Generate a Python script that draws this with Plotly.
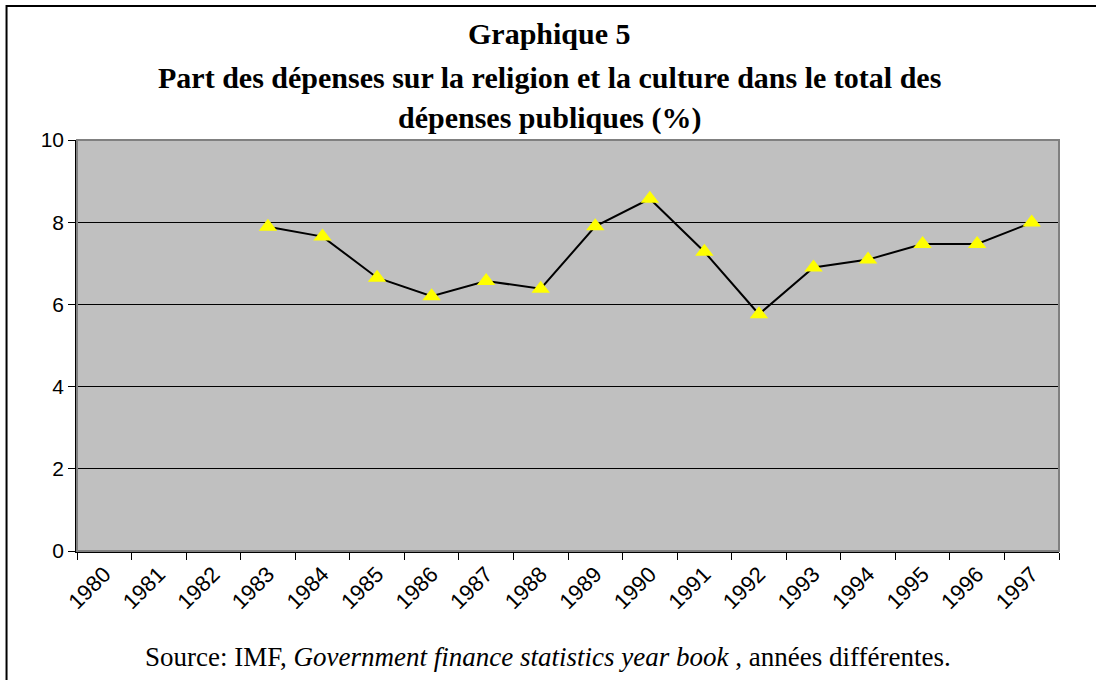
import plotly.graph_objects as go

years = [str(y) for y in range(1980, 1998)]
values = [None, None, None, 7.89, 7.65, 6.65, 6.2, 6.57, 6.38, 7.9, 8.57, 7.28, 5.76, 6.9, 7.09, 7.47, 7.47, 7.99]
y_ticks = [0, 2, 4, 6, 8, 10]

W, H = 1096, 680
L, R, T, B = 76.5, 1059, 140, 551

fig = go.Figure()
fig.add_trace(go.Scatter(
    x=years, y=values, mode="lines+markers",
    line=dict(color="black", width=2),
    marker=dict(symbol="triangle-up", size=16, color="#ffff00", line=dict(width=0)),
    connectgaps=False, showlegend=False, hoverinfo="skip",
))

pw, ph = R - L, B - T
def px(x):
    return (x - L) / pw
def py(y):
    return (B - y) / ph

shapes = [
    dict(type="rect", xref="paper", yref="paper", x0=px(6), x1=px(1110), y0=py(6), y1=py(700),
         line=dict(color="black", width=2), fillcolor="rgba(0,0,0,0)", layer="below"),
    dict(type="rect", xref="paper", yref="paper", x0=0, x1=1, y0=0, y1=1,
         line=dict(color="#808080", width=2), fillcolor="rgba(0,0,0,0)", layer="above"),
]

title_font = dict(family="Liberation Serif, Times New Roman, serif", size=30, color="black")
annotations = []
for txt, yc in [("<b>Graphique 5</b>", 33),
                ("<b>Part des dépenses sur la religion et la culture dans le total des</b>", 77),
                ("<b>dépenses publiques (%)</b>", 118)]:
    annotations.append(dict(text=txt, xref="paper", yref="paper", x=px(549), y=py(yc),
                            xanchor="center", yanchor="middle", showarrow=False, font=title_font))
annotations.append(dict(
    text="Source: IMF, <i>Government finance statistics year book</i> , années différentes.",
    xref="paper", yref="paper", x=px(548), y=py(657), xanchor="center", yanchor="middle",
    showarrow=False, font=dict(family="Liberation Serif, Times New Roman, serif", size=27, color="black")))

fig.update_layout(
    width=W, height=H,
    margin=dict(l=L, r=W - R, t=T, b=H - B, pad=0),
    paper_bgcolor="white", plot_bgcolor="#c0c0c0",
    shapes=shapes, annotations=annotations,
    xaxis=dict(type="category", categoryorder="array", categoryarray=years,
               range=[-0.5, 17.5], tickson="boundaries", ticks="outside", ticklen=7,
               tickcolor="black", tickwidth=1, showline=True, linecolor="black", linewidth=1.5,
               showgrid=False, zeroline=False, tickangle=-45,
               tickfont=dict(family="Liberation Sans, Arial, sans-serif", size=22, color="black")),
    yaxis=dict(range=[0, 10], tickvals=y_ticks, ticks="outside", ticklen=7, tickcolor="black",
               showline=True, linecolor="black", linewidth=1.5, showgrid=True, gridcolor="black",
               gridwidth=1, zeroline=False,
               tickfont=dict(family="Liberation Sans, Arial, sans-serif", size=21, color="black")),
)

fig.write_html("out.html", config={"displayModeBar": False},
               post_script="document.body.style.margin='0';document.body.style.overflow='hidden';")
